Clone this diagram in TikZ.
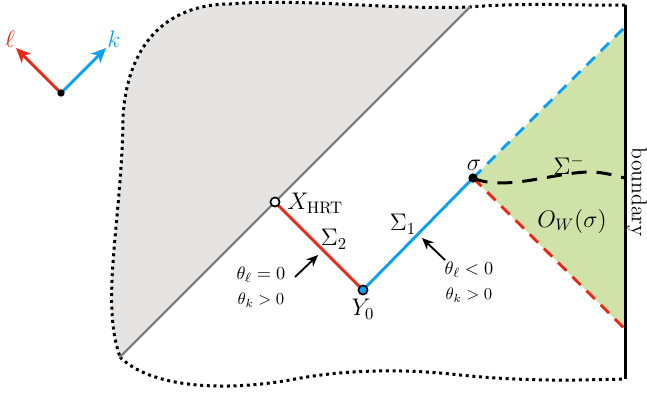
\documentclass[tikz,border=0pt]{standalone}
\usepackage{xcolor}
\usetikzlibrary{arrows.meta}
\definecolor{nullred}{RGB}{232,40,20}
\definecolor{nullblue}{RGB}{10,160,240}
\definecolor{wedgegreen}{RGB}{207,226,167}
\definecolor{shadegray}{RGB}{229,228,227}
\begin{document}
\begin{tikzpicture}[x=0.6pt,y=-0.6pt,line width=1.5pt,
		redline/.style={nullred,line width=1.7pt},
		blueline/.style={nullblue,line width=1.7pt},
		nulldash/.style={line width=1.7pt,dash pattern=on 7pt off 5pt},
		edgedots/.style={line width=1.8pt,dash pattern=on 1.8pt off 2.2pt},
		pointer/.style={-{Stealth[length=7pt,width=6pt]},line width=1.1pt},
		axis/.style={-{Stealth[length=9pt,width=8pt]},line width=1.7pt},
		dot/.style={circle,draw=black,line width=1pt,inner sep=0pt,minimum size=5.5pt}]
	\useasboundingbox (0,0) rectangle (647,400);
	\coordinate (o) at (61,93);
	\coordinate (ltip) at (16,48);
	\coordinate (ktip) at (106,48);
	\coordinate (c0) at (120,357);
	\coordinate (c1) at (123,117);
	\coordinate (c2) at (470,7);
	\coordinate (btop) at (625,5);
	\coordinate (bbot) at (625,379);
	\coordinate (bup) at (625,27);
	\coordinate (bdown) at (625,329);
	\coordinate (bmid) at (625,178);
	\coordinate (x) at (275,202);
	\coordinate (y) at (363,290);
	\coordinate (s) at (473,178);
	\coordinate (p2) at (318,255);
	\coordinate (p1) at (422,238);
	\fill[shadegray] (c0) -- (c2) .. controls (390,10) and (300,-2) .. (230,4) .. controls (175,4) and (128,35) .. (c1) .. controls (122,220) and (100,300) .. (c0) -- cycle;
	\fill[wedgegreen] (s) -- (bup) -- (bdown) -- cycle;
	\draw[edgedots] (btop) .. controls (580,6) and (530,2) .. (c2) .. controls (390,10) and (300,-2) .. (230,4) .. controls (175,4) and (128,35) .. (c1) .. controls (122,220) and (100,300) .. (c0);
	\draw[edgedots] (c0) .. controls (150,387) and (220,392) .. (290,380) .. controls (340,370) and (400,368) .. (460,375) .. controls (530,382) and (580,380) .. (bbot);
	\draw[gray,line width=1.4pt] (c0) -- (c2);
	\draw[line width=1.8pt] (btop) -- (bbot) node[midway,rotate=-90,anchor=south,inner sep=0.6pt]{\fontsize{13}{15}\selectfont boundary};
	\draw[blueline,nulldash] (s) -- (bup);
	\draw[redline,nulldash] (s) -- (bdown);
	\draw[line width=1.8pt,dash pattern=on 9pt off 6pt] (s) .. controls (505,192) and (555,172) .. (590,172) .. controls (605,172) and (615,176) .. (bmid);
	\draw[redline] (x) -- (y);
	\draw[blueline] (y) -- (s);
	\draw[axis,nullred] (o) -- (ltip);
	\draw[axis,nullblue] (o) -- (ktip);
	\fill (o) circle (2.2pt);
	\node[nullred] (ell) at (10,39) {\Large$\ell$};
	\node[nullblue] (kay) at (114,39) {\Large$k$};
	\node[dot,fill=white] (xhrt) at (x) {};
	\node[dot,fill=nullblue] (y0) at (y) {};
	\node[dot,fill=black,minimum size=4.5pt] (sig) at (s) {};
	\node[anchor=west,inner sep=0pt] (xlab) at (286,203) {\Large$X_{\mathrm{HRT}}$};
	\node (ylab) at (363,309) {\Large$Y_0$};
	\node (slab) at (474,165) {\Large$\sigma$};
	\node (s2lab) at (334,239) {\Large$\Sigma_2$};
	\node (s1lab) at (403,224) {\Large$\Sigma_1$};
	\node (smlab) at (569,165) {\Large$\Sigma^-$};
	\node (owlab) at (572,221) {\Large$O_W(\sigma)$};
	\node[align=center] (th2) at (261,287) {\fontsize{11}{13}\selectfont$\theta_\ell = 0$\\[3pt]$\theta_k > 0$};
	\node[align=center] (th1) at (469,282) {\fontsize{11}{13}\selectfont$\theta_\ell < 0$\\[3pt]$\theta_k > 0$};
	\draw[pointer] (295,277) -- (p2);
	\draw[pointer] (445,260) -- (p1);
\end{tikzpicture}
\end{document}
